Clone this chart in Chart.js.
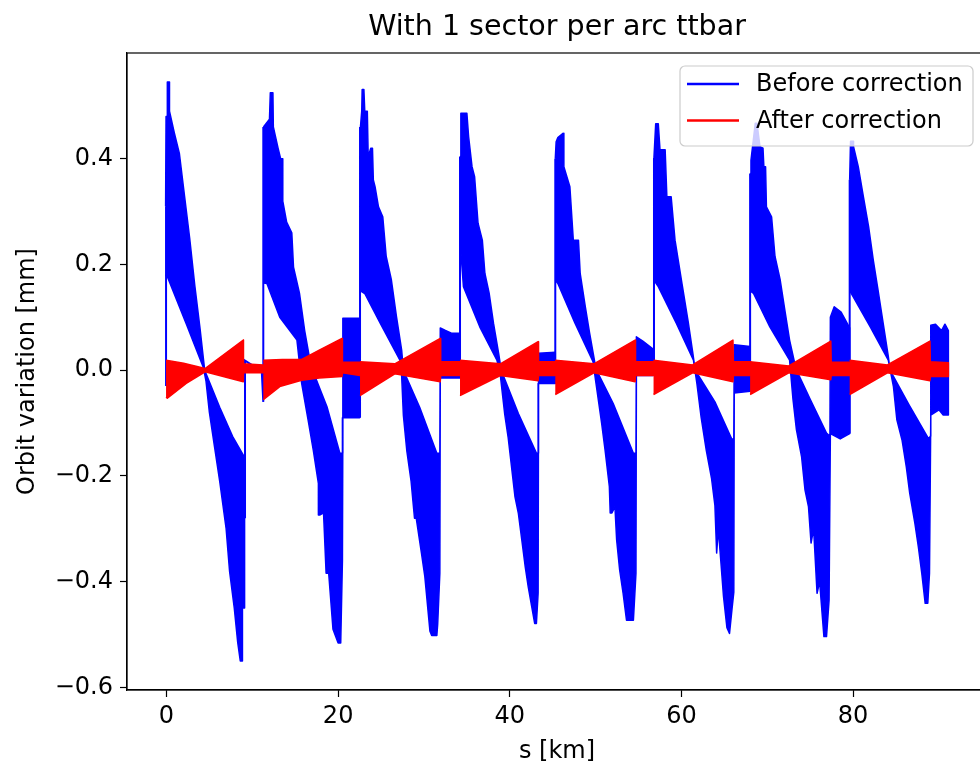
<!DOCTYPE html>
<html>
<head>
<meta charset="utf-8">
<script src="https://cdn.jsdelivr.net/npm/chart.js@4.4.0/dist/chart.umd.min.js"></script>
<style>
  html, body { margin: 0; padding: 0; background: #fff; overflow: hidden; }
  #wrap { width: 1000px; height: 765px; }
</style>
</head>
<body>
<div id="wrap"><canvas id="myChart" width="1000" height="765"></canvas></div>
<script>
// ticks
const xTicks = [0, 20, 40, 60, 80];
const yTicks = [-0.6, -0.4, -0.2, 0.0, 0.2, 0.4];
const yTickLabels = ['−0.6', '−0.4', '−0.2', '0.0', '0.2', '0.4'];

// "Before correction": upper / lower envelope of the oscillation, one list per arc [s km, mm]
const beforeTop = [
  [[-0.1,0.31],[-0.05,0.48],[0.1,0.48],[0.1,0.545],[0.35,0.545],[0.35,0.49],[0.9,0.45],[1.5,0.41],[2.1,0.33],[2.7,0.25],[3.3,0.16],[3.9,0.08],[4.45,0.0],[6.2,-0.07],[7.7,-0.125],[9.1,-0.165]],
  [[11.3,0.46],[12.0,0.475],[12.1,0.525],[12.4,0.525],[12.45,0.46],[13.0,0.42],[13.3,0.40],[13.5,0.40],[13.55,0.32],[14.0,0.28],[14.6,0.26],[14.8,0.195],[15.5,0.145],[16.1,0.075],[16.7,0.02],[16.9,0.005],[18.7,-0.069],[20.2,-0.157],[20.5,-0.157],[20.55,0.098],[22.5,0.098]],
  [[22.6,0.46],[22.75,0.49],[22.8,0.531],[23.0,0.531],[23.1,0.49],[23.4,0.49],[23.5,0.404],[23.8,0.42],[24.0,0.42],[24.1,0.36],[24.3,0.347],[24.7,0.309],[25.2,0.29],[25.6,0.215],[26.2,0.171],[26.8,0.101],[27.4,0.038],[27.6,0.0],[29.5,-0.07],[31.5,-0.157],[31.85,-0.157],[31.9,0.08],[32.5,0.075],[33.2,0.07],[34.2,0.07]],
  [[34.2,0.404],[34.3,0.486],[35.0,0.486],[35.2,0.442],[35.6,0.385],[35.9,0.366],[36.3,0.278],[36.8,0.246],[37.1,0.183],[37.6,0.145],[38.1,0.089],[38.7,0.032],[39.0,0.0],[41.0,-0.082],[43.1,-0.157],[43.3,-0.157],[43.35,0.032],[45.3,0.034]],
  [[45.3,0.40],[45.4,0.432],[45.6,0.44],[46.2,0.448],[46.3,0.385],[47.0,0.347],[47.4,0.246],[48.0,0.246],[48.2,0.183],[48.8,0.12],[49.3,0.07],[49.9,0.015],[50.1,0.0],[52.05,-0.063],[54.4,-0.157],[54.7,-0.157],[54.75,0.063],[55.5,0.055],[56.7,0.04]],
  [[56.8,0.403],[57.0,0.466],[57.3,0.466],[57.5,0.417],[58.1,0.417],[58.3,0.328],[58.8,0.328],[59.25,0.246],[60.1,0.16],[60.8,0.09],[61.3,0.035],[61.6,0.0],[63.9,-0.06],[65.85,-0.13],[66.1,-0.13],[66.15,0.048],[68.0,0.045]],
  [[68.0,0.372],[68.1,0.397],[68.6,0.467],[68.8,0.467],[69.15,0.423],[69.5,0.42],[69.6,0.385],[69.8,0.385],[69.9,0.309],[70.5,0.29],[70.9,0.215],[71.5,0.171],[72.1,0.108],[72.6,0.057],[73.2,0.013],[73.4,0.0],[75.0,-0.055],[76.9,-0.119],[77.3,-0.125],[77.35,0.10],[77.8,0.12],[78.6,0.11],[79.6,0.08]],
  [[79.6,0.36],[79.7,0.433],[80.0,0.433],[80.05,0.423],[80.6,0.385],[81.2,0.328],[81.8,0.272],[82.35,0.208],[82.9,0.152],[83.5,0.089],[84.1,0.026],[84.3,0.0],[86.5,-0.065],[88.8,-0.13],[89.0,-0.125],[89.05,0.085],[89.6,0.087],[90.3,0.075],[90.7,0.087],[91.1,0.075]]
];
const beforeBottom = [
  [[-0.1,0.18],[0.15,0.175],[2.3,0.088],[4.3,0.005],[4.6,-0.02],[5.0,-0.08],[5.6,-0.145],[6.2,-0.21],[6.95,-0.30],[7.35,-0.38],[7.9,-0.45],[8.3,-0.515],[8.6,-0.55],[8.85,-0.55],[8.85,-0.45],[9.1,-0.45]],
  [[11.3,0.165],[11.7,0.164],[13.2,0.10],[15.2,0.057],[15.75,-0.025],[16.5,-0.094],[17.1,-0.151],[17.7,-0.214],[17.7,-0.274],[17.85,-0.274],[18.3,-0.27],[18.6,-0.384],[18.9,-0.384],[19.4,-0.49],[20.0,-0.516],[20.3,-0.516],[20.5,-0.36],[20.55,-0.09],[22.5,-0.09]],
  [[22.6,0.15],[23.1,0.145],[24.9,0.089],[27.2,0.019],[27.4,-0.01],[27.6,-0.085],[28.0,-0.152],[28.5,-0.21],[28.9,-0.28],[29.1,-0.28],[29.7,-0.345],[30.1,-0.39],[30.7,-0.494],[30.9,-0.502],[31.5,-0.502],[31.6,-0.48],[31.85,-0.384],[31.9,-0.015],[34.2,-0.015]],
  [[34.2,0.246],[34.6,0.158],[36.5,0.082],[38.5,0.019],[38.9,-0.01],[39.4,-0.082],[39.8,-0.126],[40.6,-0.239],[41.0,-0.271],[41.4,-0.321],[41.8,-0.372],[42.15,-0.41],[42.55,-0.447],[42.9,-0.479],[43.1,-0.479],[43.3,-0.422],[43.35,-0.025],[45.3,-0.025]],
  [[45.3,0.17],[45.6,0.164],[47.6,0.089],[49.7,0.016],[50.0,-0.02],[50.7,-0.1],[51.1,-0.151],[51.6,-0.22],[51.7,-0.27],[51.9,-0.27],[52.25,-0.258],[52.45,-0.321],[52.8,-0.378],[53.2,-0.422],[53.6,-0.473],[54.4,-0.473],[54.7,-0.384],[54.75,-0.01],[56.7,-0.01]],
  [[56.8,0.17],[57.3,0.158],[59.4,0.089],[61.4,0.019],[61.8,-0.025],[62.3,-0.09],[62.9,-0.152],[63.5,-0.204],[63.9,-0.256],[64.1,-0.346],[64.3,-0.30],[64.9,-0.428],[65.3,-0.487],[65.6,-0.498],[65.9,-0.45],[66.1,-0.42],[66.15,-0.043],[68.0,-0.04]],
  [[68.0,0.15],[68.4,0.145],[70.3,0.082],[72.6,0.019],[73.0,-0.056],[73.4,-0.113],[74.0,-0.164],[74.4,-0.227],[74.8,-0.258],[75.1,-0.327],[75.4,-0.30],[75.8,-0.422],[76.1,-0.40],[76.6,-0.504],[76.9,-0.504],[77.2,-0.435],[77.35,-0.12],[78.5,-0.13],[79.6,-0.12]],
  [[79.6,0.15],[79.8,0.145],[82.0,0.082],[84.1,0.019],[84.7,-0.031],[85.1,-0.094],[85.7,-0.132],[86.2,-0.183],[86.6,-0.233],[87.2,-0.29],[87.6,-0.334],[88.0,-0.384],[88.4,-0.441],[88.7,-0.441],[88.9,-0.384],[89.05,-0.085],[90.0,-0.075],[90.5,-0.085],[91.1,-0.085]]
];
// thin jumps between arcs
const beforeLinks = [
  [[-0.05,-0.03],[-0.05,0.31]],
  [[9.15,-0.28],[9.15,0.018],[11.1,-0.002],[11.28,-0.06],[11.28,0.46]],
  [[22.55,-0.09],[22.55,0.46]],
  [[34.2,-0.015],[34.2,0.404]],
  [[45.3,-0.025],[45.3,0.40]],
  [[56.8,-0.01],[56.8,0.403]],
  [[68.0,-0.04],[68.0,0.372]],
  [[79.6,-0.12],[79.6,0.36]]
];

// "After correction": upper / lower envelope per arc
const afterTop = [
  [[-0.05,0.019],[2.0,0.013],[4.5,0.003],[8.95,0.057],[8.97,0.012],[11.28,0.01]],
  [[11.28,0.019],[13.5,0.02],[15.7,0.02],[17.8,0.038],[20.45,0.06],[20.5,0.015],[22.55,0.015]],
  [[22.55,0.016],[26.6,0.012],[31.9,0.06],[31.95,0.016],[34.2,0.016]],
  [[34.2,0.019],[38.9,0.012],[43.3,0.054],[43.35,0.016],[45.3,0.016]],
  [[45.3,0.019],[49.8,0.012],[54.6,0.057],[54.65,0.016],[56.75,0.016]],
  [[56.75,0.019],[61.3,0.01],[66.0,0.057],[66.05,0.016],[68.0,0.016]],
  [[68.0,0.016],[72.5,0.008],[77.4,0.055],[77.45,0.015],[79.6,0.015]],
  [[79.6,0.019],[84.0,0.01],[88.95,0.055],[89.0,0.016],[91.1,0.014]]
];
const afterBottom = [
  [[-0.05,-0.051],[0.1,-0.053],[2.3,-0.025],[4.5,-0.003],[8.95,-0.022],[8.97,-0.005],[11.28,-0.005]],
  [[11.28,-0.056],[13.2,-0.031],[15.75,-0.019],[17.8,-0.015],[20.45,-0.012],[20.5,-0.005],[22.55,-0.01]],
  [[22.55,-0.048],[26.6,-0.007],[31.9,-0.022],[31.95,-0.01],[34.2,-0.01]],
  [[34.2,-0.048],[38.9,-0.01],[43.3,-0.02],[43.35,-0.01],[45.3,-0.01]],
  [[45.3,-0.046],[49.8,-0.005],[54.6,-0.022],[54.65,-0.01],[56.75,-0.01]],
  [[56.75,-0.046],[61.3,-0.005],[66.0,-0.022],[66.05,-0.01],[68.0,-0.01]],
  [[68.0,-0.046],[72.5,-0.005],[77.4,-0.018],[77.45,-0.01],[79.6,-0.01]],
  [[79.6,-0.046],[84.0,-0.005],[88.95,-0.02],[89.0,-0.012],[91.1,-0.012]]
];

const BLUE = '#0000ff';
const RED = '#ff0000';
const FONT = 'DejaVu Sans';
const TITLE = 'With 1 sector per arc ttbar';

// envelope pairs -> closed outlines, arcs split by a gap point
function outlines(tops, bottoms) {
  const pts = [];
  tops.forEach((top, i) => {
    const shape = top.concat(bottoms[i].slice().reverse());
    shape.forEach(p => pts.push({x: p[0], y: p[1]}));
    pts.push({x: shape[0][0], y: null});
  });
  return pts;
}
function polylines(lists) {
  const pts = [];
  lists.forEach(l => {
    l.forEach(p => pts.push({x: p[0], y: p[1]}));
    pts.push({x: l[0][0], y: null});
  });
  return pts;
}

// matplotlib-like frame, title centred on the axes, legend inside the axes
const framePlugin = {
  id: 'frame',
  afterDraw(chart) {
    const {ctx, chartArea: a} = chart;
    ctx.save();
    ctx.strokeStyle = '#000';
    ctx.lineWidth = 1.2;
    ctx.strokeRect(a.left, a.top, a.right - a.left, a.bottom - a.top);

    ctx.fillStyle = '#000';
    ctx.font = '28.5px "' + FONT + '"';
    ctx.textAlign = 'center';
    ctx.textBaseline = 'middle';
    ctx.fillText(TITLE, (a.left + a.right) / 2, 28);

    // legend box
    const w = 293, h = 80;
    const x0 = a.right - 14 - w, y0 = a.top + 13;
    ctx.beginPath();
    ctx.roundRect(x0, y0, w, h, 5);
    ctx.fillStyle = 'rgba(255,255,255,0.8)';
    ctx.fill();
    ctx.strokeStyle = '#cccccc';
    ctx.lineWidth = 1.2;
    ctx.stroke();
    const entries = [['Before correction', BLUE], ['After correction', RED]];
    ctx.font = '24px "' + FONT + '"';
    ctx.textAlign = 'left';
    entries.forEach(([label, color], i) => {
      const yy = y0 + 18 + i * 36.5;
      ctx.strokeStyle = color;
      ctx.lineWidth = 2.3;
      ctx.beginPath();
      ctx.moveTo(x0 + 7, yy);
      ctx.lineTo(x0 + 59, yy);
      ctx.stroke();
      ctx.fillStyle = '#000';
      ctx.fillText(label, x0 + 76, yy + 1);
    });
    ctx.restore();
  }
};

const ctx = document.getElementById('myChart').getContext('2d');
new Chart(ctx, {
  type: 'scatter',
  data: {
    datasets: [
      {
        label: 'After correction',
        data: outlines(afterTop, afterBottom),
        showLine: true,
        borderColor: RED,
        backgroundColor: RED,
        borderWidth: 1.5,
        borderJoinStyle: 'round',
        fill: 'shape',
        pointRadius: 0,
        spanGaps: false
      },
      {
        label: 'Before correction',
        data: polylines(beforeLinks),
        showLine: true,
        borderColor: BLUE,
        borderWidth: 2,
        pointRadius: 0,
        fill: false,
        spanGaps: false
      },
      {
        label: 'Before correction band',
        data: outlines(beforeTop, beforeBottom),
        showLine: true,
        borderColor: BLUE,
        backgroundColor: BLUE,
        borderWidth: 1.5,
        borderJoinStyle: 'round',
        fill: 'shape',
        pointRadius: 0,
        spanGaps: false
      }
    ]
  },
  options: {
    responsive: false,
    animation: false,
    devicePixelRatio: 1,
    events: [],
    layout: { padding: { left: 0, right: 13, top: 53, bottom: 0 } },
    plugins: {
      legend: { display: false },
      tooltip: { enabled: false },
      title: { display: false }
    },
    scales: {
      x: {
        type: 'linear',
        min: -4.6,
        max: 95.6,
        afterFit: s => { s.height = 75; },
        afterBuildTicks: s => { s.ticks = xTicks.map(v => ({value: v})); },
        grid: { drawOnChartArea: false, drawTicks: true, tickLength: 7, tickColor: '#000', tickWidth: 1.2 },
        border: { display: true, color: '#000', width: 1.2 },
        ticks: { color: '#000', padding: 5, maxRotation: 0, font: { family: FONT, size: 24 } },
        title: { display: true, text: 's [km]', color: '#000', font: { family: FONT, size: 24, lineHeight: 1.1 }, padding: { top: 0, bottom: 0 } }
      },
      y: {
        type: 'linear',
        min: -0.605,
        max: 0.6,
        afterFit: s => { s.width = 127; },
        afterBuildTicks: s => { s.ticks = yTicks.map(v => ({value: v})); },
        grid: { drawOnChartArea: false, drawTicks: true, tickLength: 7, tickColor: '#000', tickWidth: 1.2 },
        border: { display: true, color: '#000', width: 1.2 },
        ticks: {
          color: '#000',
          padding: 7,
          font: { family: FONT, size: 24 },
          callback: v => yTickLabels[yTicks.findIndex(t => Math.abs(t - v) < 1e-9)]
        },
        title: { display: true, text: 'Orbit variation [mm]', color: '#000', font: { family: FONT, size: 24, lineHeight: 1.1 }, padding: { top: 15, bottom: 0 } }
      }
    }
  },
  plugins: [framePlugin]
});
</script>
</body>
</html>
